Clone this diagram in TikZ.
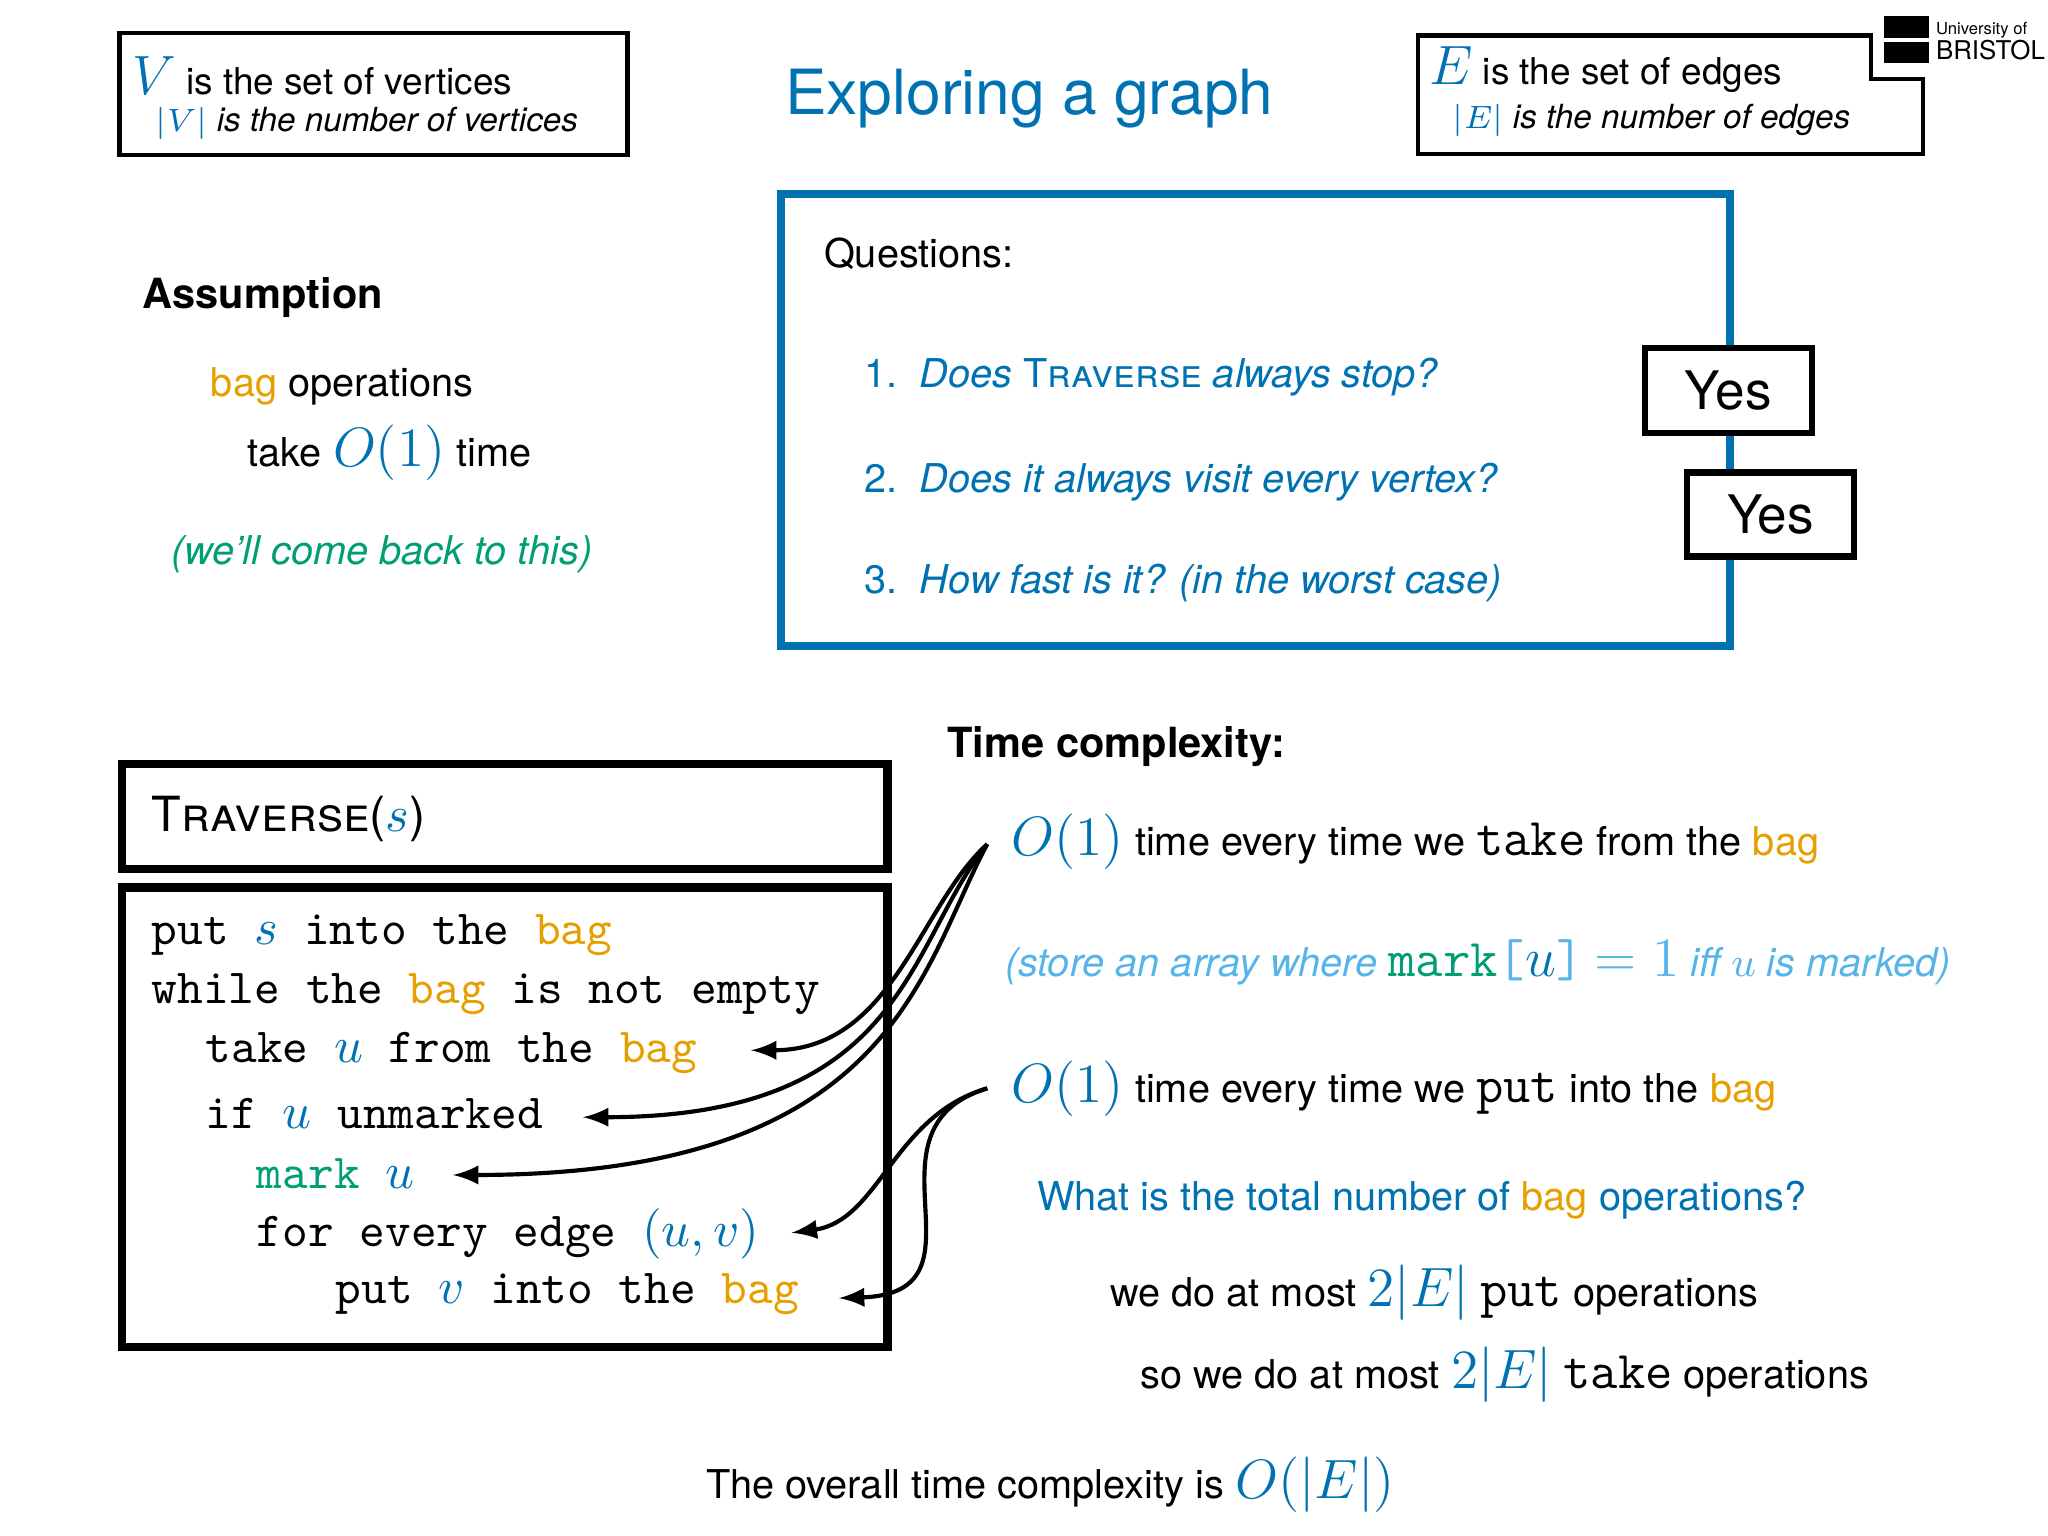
\documentclass[tikz,border=0pt]{standalone}
\usepackage{fontspec}
\setmainfont{TeX Gyre Heros}
\usepackage{amsmath}
\definecolor{cblue}{RGB}{0,114,178}
\definecolor{corange}{RGB}{230,159,0}
\definecolor{cgreen}{RGB}{0,158,115}
\definecolor{clblue}{RGB}{86,180,233}
\newcommand{\bagw}{\textcolor{corange}{bag}}
\newcommand{\bm}[1]{\textcolor{cblue}{$#1$}}
\begin{document}
\begin{tikzpicture}[x=0.01cm,y=-0.01cm,
  txt/.style={anchor=west,inner sep=0,font=\fontsize{8.6}{10}\selectfont},
  small/.style={anchor=west,inner sep=0,font=\fontsize{7.2}{9}\selectfont},
  code/.style={anchor=west,inner sep=0,font=\fontsize{10.6}{13}\selectfont\ttfamily},
  frame/.style={draw,line width=1.4pt},
  arr/.style={-latex,line width=0.9pt,shorten >=2pt}]
\useasboundingbox (0,0) rectangle (1560,1170);
% V box
\draw[line width=0.9pt] (91,25) rectangle (478,118);
\node[small,font=\fontsize{8}{9}\selectfont] (v1) at (100,58) {\textcolor{cblue}{\fontsize{13}{13}\selectfont$V$} is the set of vertices};
\node[small] (v2) at (118,94) {\bm{|V|} \textit{is the number of vertices}};
% title
\node[anchor=center,inner sep=0,font=\fontsize{13.5}{16}\selectfont,text=cblue] (title) at (784,75) {Exploring a graph};
% E box with notch
\draw[line width=0.9pt] (1080,27) -- (1425,27) -- (1425,60) -- (1465,60) -- (1465,117) -- (1080,117) -- cycle;
\node[small,font=\fontsize{8}{9}\selectfont] (e1) at (1088,53) {\textcolor{cblue}{\fontsize{13}{13}\selectfont$E$} is the set of edges};
\node[small] (e2) at (1106,92) {\bm{|E|} \textit{is the number of edges}};
% logo
\node[anchor=north west,inner sep=0,font=\fontsize{3.6}{4}\selectfont\rmfamily,align=left] (logo) at (1474,16) {University of\\[-0.5pt]{\fontsize{5.6}{6}\selectfont BRISTOL}};
\fill (1435,12) rectangle (1469,29);
\fill (1435,32) rectangle (1469,48);
% questions
\draw[cblue,line width=1.8pt] (595,148) rectangle (1318,492);
\node[txt] (q) at (627,193) {Questions:};
\node[txt,text=cblue] (q1) at (658,287) {1.\ \ \textit{Does} \textsc{Traverse} \textit{always stop?}};
\node[txt,text=cblue] (q2) at (658,367) {2.\ \ \textit{Does it always visit every vertex?}};
\node[txt,text=cblue] (q3) at (658,444) {3.\ \ \textit{How fast is it? (in the worst case)}};
\node[frame,fill=white,inner sep=0,font=\fontsize{11.5}{14}\selectfont,minimum width=1.27cm,minimum height=0.65cm] (y1) at (1316.5,297.5) {Yes};
\node[frame,fill=white,inner sep=0,font=\fontsize{11.5}{14}\selectfont,minimum width=1.27cm,minimum height=0.64cm] (y2) at (1348.5,392) {Yes};
% assumption
\node[txt,font=\fontsize{9}{11}\selectfont\bfseries] (as) at (108,227) {Assumption};
\node[txt] (as1) at (160,294) {\bagw{} operations};
\node[txt] (as2) at (188,345) {take \textcolor{cblue}{\fontsize{11.5}{12}\selectfont$O(1)$} time};
\node[txt,anchor=center,text=cgreen] (as3) at (291,422) {\textit{(we'll come back to this)}};
% traverse
\draw[line width=1.8pt] (93,582) rectangle (676,662);
\node[txt,font=\fontsize{10.5}{13}\selectfont] (tt) at (115,624) {\textsc{Traverse}(\textcolor{cblue}{$s$})};
\draw[line width=1.8pt] (93,676) rectangle (676,1026);
\node[code] (c1) at (115,712) {put \bm{s} into the \textcolor{corange}{bag}};
\node[code] (c2) at (115,757) {while the \textcolor{corange}{bag} is not empty};
\node[code] (c3) at (156,802) {take \bm{u} from the \textcolor{corange}{bag}};
\node[code] (c4) at (156,848) {if \bm{u} unmarked};
\node[code] (c5) at (195,894) {\textcolor{cgreen}{mark} \bm{u}};
\node[code] (c6) at (195,940) {for every edge \bm{(u,v)}};
\node[code] (c7) at (255,986) {put \bm{v} into the \textcolor{corange}{bag}};
% time complexity
\node[txt,font=\fontsize{9}{11}\selectfont\bfseries] (tc) at (721,569) {Time complexity:};
\node[txt] (t1) at (770,641) {\textcolor{cblue}{\fontsize{11.5}{12}\selectfont$O(1)$} time every time we {\fontsize{11.5}{12}\selectfont\ttfamily take} from the \bagw};
\node[txt,text=clblue] (t2) at (765,733) {\textit{(store an array where} {\fontsize{11.5}{12}\selectfont\ttfamily\textcolor{cgreen}{mark}[\textcolor{cblue}{$u$}]} {\fontsize{11.5}{12}\selectfont$=1$} \textit{iff $u$ is marked)}};
\node[txt] (t3) at (770,829) {\textcolor{cblue}{\fontsize{11.5}{12}\selectfont$O(1)$} time every time we {\fontsize{11.5}{12}\selectfont\ttfamily put} into the \bagw};
\node[txt,anchor=center,text=cblue] (t4) at (1083,914) {What is the total number of \bagw{} operations?};
\node[txt] (t5) at (845,985) {we do at most \textcolor{cblue}{\fontsize{11.5}{12}\selectfont$2|E|$} {\fontsize{11.5}{12}\selectfont\ttfamily put} operations};
\node[txt] (t6) at (868,1047) {so we do at most \textcolor{cblue}{\fontsize{11.5}{12}\selectfont$2|E|$} {\fontsize{11.5}{12}\selectfont\ttfamily take} operations};
\node[txt,anchor=center] (t7) at (800,1131) {The overall time complexity is \textcolor{cblue}{\fontsize{11.5}{12}\selectfont$O(|E|)$}};
% arrows
\coordinate (a1) at (752,643);
\coordinate (a2) at (752,829);
\draw[arr] (a1) .. controls (700,690) and (680,800) .. (565,800);
\draw[arr] (a1) .. controls (690,720) and (690,851) .. (437,851);
\draw[arr] (a1) .. controls (700,740) and (680,895) .. (338,895);
\draw[arr] (a2) .. controls (680,850) and (670,930) .. (596,940);
\draw[arr] (a2) .. controls (650,860) and (760,985) .. (632,989);
\end{tikzpicture}
\end{document}
